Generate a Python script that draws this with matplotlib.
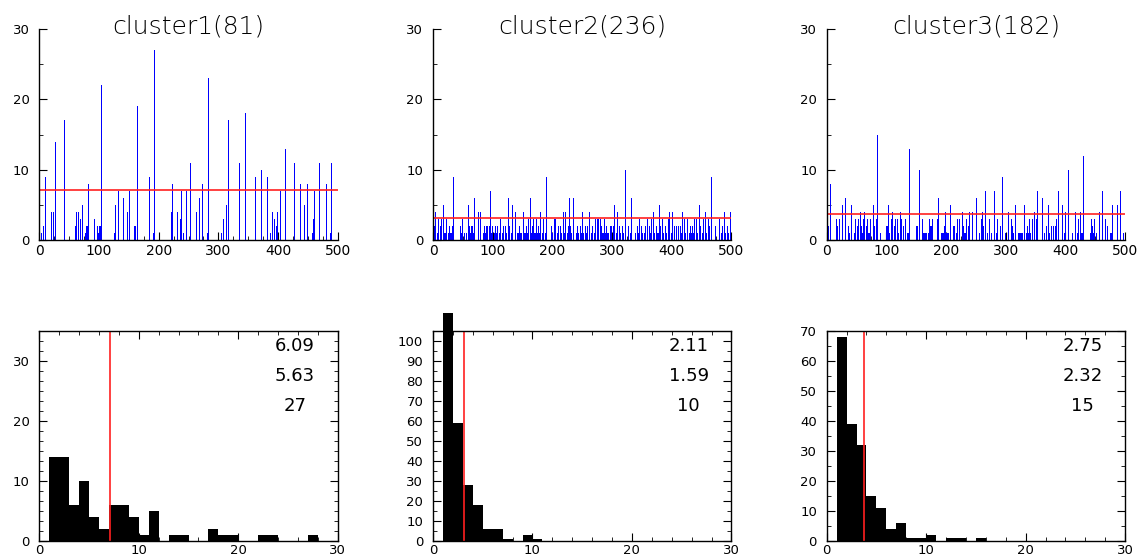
"""Per-cluster spike plots (top row) and value histograms (bottom row)."""

import matplotlib

matplotlib.use("Agg")
import matplotlib.pyplot as plt
import numpy as np
from matplotlib.ticker import MultipleLocator

plt.rcParams.update(
    {
        "font.family": "DejaVu Sans",
        "font.size": 9,
        "axes.linewidth": 1.0,
        "axes.edgecolor": "black",
    }
)

TITLES = ["cluster1(81)", "cluster2(236)", "cluster3(182)"]

# Non-zero bins read off the top row: {height: [bin positions]}.
C1_SPIKES = {
    1: [3, 77, 78, 97, 98, 126, 140, 190, 240, 281, 304, 387, 457, 487],
    2: [7, 59, 79, 80, 91, 96, 100, 101, 102, 159, 160, 307, 397, 411],
    3: [69, 92, 235, 308, 394, 459],
    4: [20, 23, 62, 65, 147, 220, 231, 263, 390, 399],
    5: [72, 127, 312, 444],
    6: [141, 268],
    7: [132, 151, 238, 245, 404, 461],
    8: [82, 223, 273, 436, 449, 481],
    9: [10, 183, 362, 382],
    10: [372],
    11: [253, 334, 426, 469, 489],
    13: [412],
    14: [27],
    17: [42, 317],
    18: [345],
    19: [163],
    22: [104],
    23: [283],
    27: [193],
}

C2_SPIKES = {
    1: [1, 6, 7, 12, 13, 16, 19, 20, 25, 29, 30, 45, 47, 52, 56, 59, 62, 63, 67,
        84, 87, 88, 90, 94, 97, 102, 105, 107, 110, 113, 115, 117, 120, 123, 127,
        130, 141, 143, 146, 147, 152, 154, 157, 162, 165, 170, 171, 175, 178, 182,
        188, 197, 200, 207, 210, 214, 219, 224, 225, 232, 239, 243, 248, 252, 254,
        257, 264, 267, 270, 279, 284, 285, 289, 292, 294, 298, 301, 306, 311, 314,
        318, 330, 339, 344, 348, 351, 353, 355, 358, 363, 365, 371, 375, 377, 383,
        386, 390, 398, 403, 410, 416, 420, 423, 429, 433, 436, 443, 450, 458, 472,
        483, 490, 494, 499],
    2: [2, 11, 27, 31, 46, 48, 61, 64, 66, 86, 89, 91, 93, 99, 104, 108, 118, 121,
        128, 144, 155, 166, 176, 198, 209, 212, 226, 230, 241, 246, 255, 258, 266,
        282, 290, 296, 299, 302, 312, 316, 327, 342, 349, 356, 362, 373, 381, 388,
        404, 408, 411, 414, 431, 434, 448, 463, 473, 484, 492],
    3: [9, 14, 22, 49, 112, 160, 168, 173, 185, 202, 205, 272, 274, 277, 280, 287,
        345, 359, 366, 384, 393, 421, 426, 438, 441, 453, 460, 480],
    4: [4, 76, 79, 138, 150, 180, 217, 222, 250, 262, 309, 369, 396, 401, 418, 456,
        487, 497],
    5: [17, 58, 133, 304, 379, 445],
    6: [69, 125, 163, 228, 235, 332],
    7: [96],
    9: [34, 190, 466],
    10: [321],
}

C3_SPIKES = {
    1: [0, 36, 37, 38, 45, 59, 70, 71, 90, 105, 119, 134, 136, 162, 163, 164, 165,
        166, 167, 169, 192, 193, 194, 195, 197, 198, 200, 202, 203, 216, 217, 228,
        230, 231, 232, 233, 237, 255, 268, 276, 284, 298, 299, 313, 320, 322, 324,
        326, 328, 334, 335, 337, 338, 341, 364, 372, 385, 397, 411, 419, 426, 427,
        441, 446, 451, 474, 476, 496],
    2: [1, 2, 3, 17, 35, 50, 57, 66, 80, 100, 101, 112, 128, 149, 150, 151, 152,
        173, 174, 196, 211, 212, 213, 214, 229, 236, 250, 262, 290, 310, 311, 336,
        367, 368, 376, 379, 382, 445, 470],
    3: [16, 21, 48, 52, 60, 68, 73, 82, 107, 114, 117, 125, 132, 160, 171, 176, 184,
        219, 221, 234, 258, 272, 286, 308, 339, 344, 351, 384, 421, 443, 448, 466],
    4: [55, 63, 110, 122, 199, 226, 239, 244, 261, 303, 347, 400, 416, 424, 457],
    5: [25, 40, 77, 102, 207, 315, 330, 370, 394, 478, 486],
    6: [30, 187, 251, 360],
    7: [266, 280, 353, 387, 461, 491],
    8: [6],
    9: [293],
    10: [154, 405],
    12: [429],
    13: [138],
    15: [85],
}

SPIKES = [C1_SPIKES, C2_SPIKES, C3_SPIKES]

# red reference level (same in top and bottom row)
LEVELS = [7.09, 3.11, 3.75]
# numbers printed in the histogram panels: mean, std, max
STATS = [["6.09", "5.63", "27"], ["2.11", "1.59", "10"], ["2.75", "2.32", "15"]]
HIST_YMAX = [35, 105, 70]
HIST_YMINOR = [10 / 6, 5, 5]

W, H = 1148, 558
LEFTS = [39.3, 433.0, 826.7]
AX_W = 298.4


def expand(spikes):
    pos, val = [], []
    for h, xs in spikes.items():
        pos += xs
        val += [h] * len(xs)
    return np.array(pos), np.array(val)


fig = plt.figure(figsize=(W / 100, H / 100), dpi=100)

for i in range(3):
    pos, val = expand(SPIKES[i])

    # top row: spikes, 1 px crisp lines like the original
    ax = fig.add_axes([LEFTS[i] / W, 1 - 240 / H, AX_W / W, 211 / H])
    ax.vlines(pos, 0, val, color="#0000ff", linewidth=0.72, antialiased=False)
    ax.axhline(LEVELS[i], color="#ff2020", linewidth=1.2)
    ax.set_xlim(0, 500)
    ax.set_ylim(0, 30)
    ax.spines["top"].set_visible(False)
    ax.spines["right"].set_visible(False)
    ax.xaxis.set_major_locator(MultipleLocator(100))
    ax.xaxis.set_minor_locator(MultipleLocator(25))
    ax.yaxis.set_major_locator(MultipleLocator(10))
    ax.yaxis.set_minor_locator(MultipleLocator(5))
    ax.tick_params(which="both", direction="in", top=False, right=False)
    ax.tick_params(which="major", length=6)
    ax.tick_params(which="minor", length=3)
    ax.tick_params(axis="x", labelsize=10, pad=3)
    ax.tick_params(axis="y", labelsize=9.5, pad=7)
    # y given explicitly so the negative pad is not undone by auto placement
    ax.set_title(TITLES[i], fontsize=18, fontweight="light", y=1.0, pad=-3)

    # bottom row: histogram of spike heights
    bx = fig.add_axes([LEFTS[i] / W, 1 - 541.3 / H, AX_W / W, 210.6 / H])
    _, _, patches = bx.hist(val, bins=np.arange(0, 31), color="black")
    for p in patches:
        p.set_clip_on(False)
    bx.axvline(LEVELS[i], color="#ff2020", linewidth=1.2)
    bx.set_xlim(0, 30)
    bx.set_ylim(0, HIST_YMAX[i])
    bx.xaxis.set_major_locator(MultipleLocator(10))
    bx.xaxis.set_minor_locator(MultipleLocator(2))
    bx.yaxis.set_major_locator(MultipleLocator(10))
    bx.yaxis.set_minor_locator(MultipleLocator(HIST_YMINOR[i]))
    bx.tick_params(which="both", direction="in", top=True, right=True)
    bx.tick_params(which="major", length=6)
    bx.tick_params(which="minor", length=3)
    bx.tick_params(axis="x", labelsize=9.5, pad=2)
    bx.tick_params(axis="y", labelsize=9.5, pad=7)
    for s, y in zip(STATS[i], [0.927, 0.785, 0.643]):
        bx.text(0.857, y, s, transform=bx.transAxes, ha="center", va="center",
                fontsize=13)

fig.savefig("out.png", dpi=100)
